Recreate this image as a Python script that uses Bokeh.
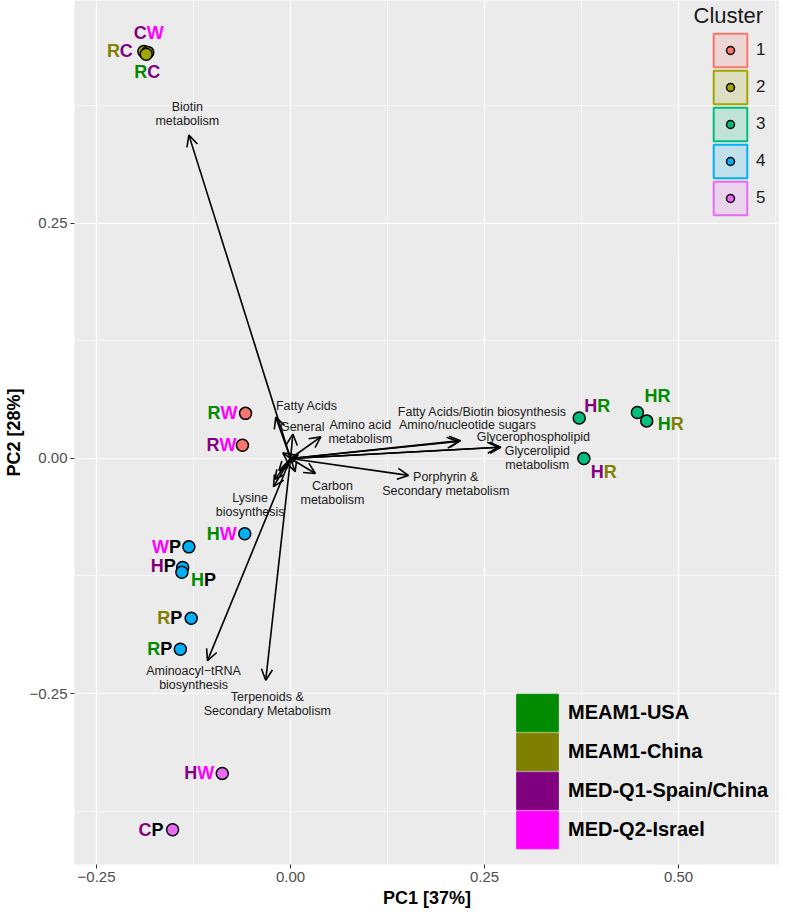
from bokeh.plotting import figure
from bokeh.models import (ColumnDataSource, Arrow, OpenHead, Legend, LegendItem,
                          FixedTicker, Range1d, Label, CustomJSTickFormatter)
from bokeh.core.properties import value
from bokeh.embed import file_html
from bokeh.resources import INLINE

FONT = "Liberation Sans"
NAN = float("nan")

# ---------------- data ----------------
populations = ["MEAM1-USA", "MEAM1-China", "MED-Q1-Spain/China", "MED-Q2-Israel"]
pop_colors = ["#008B00", "#808000", "#800080", "#FF00FF"]

clusters = ["1", "2", "3", "4", "5"]
cluster_colors = ["#F8766D", "#A3A500", "#00BF7D", "#00B0F6", "#E76BF3"]

# sample scores
pc1 = [-0.189, -0.184, -0.186, -0.058, -0.062, 0.372, 0.447, 0.459, 0.378,
       -0.059, -0.131, -0.139, -0.140, -0.128, -0.142, -0.088, -0.152]
pc2 = [0.433, 0.432, 0.430, 0.048, 0.014, 0.043, 0.049, 0.040, 0.000,
       -0.080, -0.094, -0.116, -0.121, -0.170, -0.203, -0.335, -0.395]
cluster = ["2", "2", "2", "1", "1", "3", "3", "3", "3",
           "4", "4", "4", "4", "4", "4", "5", "5"]
first_letter = ["R", "C", "R", "R", "R", "H", "H", "H", "H",
                "H", "W", "H", "H", "R", "R", "H", "C"]
second_letter = ["C", "W", "C", "W", "W", "R", "R", "R", "R",
                 "W", "P", "P", "P", "P", "P", "W", "P"]
first_pop = ["MEAM1-China", "MED-Q1-Spain/China", "MEAM1-USA", "MEAM1-USA",
             "MED-Q1-Spain/China", "MED-Q1-Spain/China", "MEAM1-USA", "MEAM1-USA",
             "MED-Q1-Spain/China", "MEAM1-USA", "MED-Q2-Israel", "MED-Q1-Spain/China",
             "MEAM1-USA", "MEAM1-China", "MEAM1-USA", "MED-Q1-Spain/China",
             "MED-Q1-Spain/China"]
second_pop = ["MED-Q1-Spain/China", "MED-Q2-Israel", "MED-Q1-Spain/China",
              "MED-Q2-Israel", "MED-Q2-Israel", "MEAM1-USA", "MEAM1-USA",
              "MEAM1-China", "MEAM1-China", "MED-Q2-Israel", "", "", "", "", "",
              "MED-Q2-Israel", ""]

# variable loadings (arrows)
var_names = ["Biotin\nmetabolism", "Fatty Acids", "General", "Amino acid\nmetabolism",
             "Fatty Acids/Biotin biosynthesis", "Amino/nucleotide sugars",
             "Glycerophospholipid", "Glycerolipid\nmetabolism",
             "Porphyrin &\nSecondary metabolism", "Carbon\nmetabolism",
             "Lysine\nbiosynthesis", "Aminoacyl\u2212tRNA\nbiosynthesis",
             "Terpenoids &\nSecondary Metabolism"]
load_x = [-0.131, -0.019, 0.003, 0.039, 0.219, 0.216, 0.268, 0.271, 0.152, 0.032,
          -0.022, -0.107, -0.032]
load_y = [0.344, 0.044, 0.026, 0.023, 0.019, 0.018, 0.012, 0.012, -0.018, -0.016,
          -0.030, -0.215, -0.236]
var_label_x = [-0.133, 0.021, 0.015, 0.090, 0.247, 0.228, 0.313, 0.318, 0.200, 0.054,
               -0.052, -0.125, -0.030]
var_label_y = [0.366, 0.056, 0.033, 0.028, 0.049, 0.036, 0.023, 0.001, -0.027, -0.037,
               -0.050, -0.233, -0.261]
# short loadings crowded at the origin (labels not legible)
small_x = [-0.010, -0.015, 0.006, 0.010, -0.020]
small_y = [0.006, -0.013, -0.014, 0.004, -0.022]

# label placement (pixel offset of the junction between the two letters)
label_dx = [-24, -1, 1, -25, -23, 18, 20, 24, 20, -25, -20, -19, 22, -21, -20, -25, -21]
label_dy = [0, -19, 18, 0, 0, -12, -16, 3, 14, 0, 0, -2, 8, 0, 0, 0, 0]

# ---------------- figure ----------------
pop_color = dict(zip(populations, pop_colors))
pop_color[""] = "#000000"

FRAME_H = 864
p = figure(frame_width=705, frame_height=FRAME_H,
           x_range=Range1d(-0.2784, 0.6301), y_range=Range1d(-0.4319, 0.4872),
           output_backend="svg", toolbar_location=None,
           min_border_left=66, min_border_right=0, min_border_top=0, min_border_bottom=44,
           background_fill_color="#EBEBEB", border_fill_color="white",
           outline_line_color=None)

xt = FixedTicker(ticks=[-0.25, 0.0, 0.25, 0.5], minor_ticks=[-0.125, 0.125, 0.375, 0.625])
yt = FixedTicker(ticks=[-0.25, 0.0, 0.25], minor_ticks=[-0.375, -0.125, 0.125, 0.375])
p.xaxis.ticker = xt
p.yaxis.ticker = yt
p.xgrid.ticker = xt
p.ygrid.ticker = yt
fmt = CustomJSTickFormatter(code="return (tick < -1e-9 ? '\\u2212' : '') + Math.abs(tick).toFixed(2);")
for ax in (p.xaxis[0], p.yaxis[0]):
    ax.formatter = fmt
    ax.axis_line_color = None
    ax.major_tick_in = 0
    ax.major_tick_out = 4
    ax.major_tick_line_color = "#333333"
    ax.major_tick_line_width = 1.1
    ax.minor_tick_in = 0
    ax.minor_tick_out = 0
    ax.major_label_text_font = FONT
    ax.major_label_text_font_size = "15px"
    ax.major_label_text_color = "#4D4D4D"
    ax.major_label_standoff = 3
    ax.axis_label_text_font = FONT
    ax.axis_label_text_font_size = "18px"
    ax.axis_label_text_font_style = "bold"
    ax.axis_label_text_color = "#000000"
    ax.axis_label_standoff = 3
p.xaxis.axis_label = "PC1 [37%]"
p.yaxis.axis_label = "PC2 [28%]"
for g in (p.xgrid[0], p.ygrid[0]):
    g.grid_line_color = "white"
    g.grid_line_width = 1.2
    g.minor_grid_line_color = "white"
    g.minor_grid_line_width = 0.6

# arrows
arrow_src = ColumnDataSource(dict(x0=[0.0] * len(load_x), y0=[0.0] * len(load_y),
                                  x1=load_x, y1=load_y))
p.add_layout(Arrow(source=arrow_src, x_start="x0", y_start="y0", x_end="x1", y_end="y1",
                   line_width=1.6, line_color="black",
                   end=OpenHead(size=11, line_width=1.6, line_color="black")))
small_src = ColumnDataSource(dict(x0=[0.0] * len(small_x), y0=[0.0] * len(small_y),
                                  x1=small_x, y1=small_y))
p.add_layout(Arrow(source=small_src, x_start="x0", y_start="y0", x_end="x1", y_end="y1",
                   line_width=1.6, line_color="black",
                   end=OpenHead(size=9, line_width=1.6, line_color="black")))

p.text(x=var_label_x, y=var_label_y, text=var_names, text_align="center",
       text_baseline="middle", text_font=value(FONT), text_font_size="12.5px",
       text_color="#1A1A1A", text_line_height=1.0)

# points per cluster
point_r = {}
for k, c in zip(clusters, cluster_colors):
    idx = [i for i, v in enumerate(cluster) if v == k]
    point_r[k] = p.scatter([pc1[i] for i in idx], [pc2[i] for i in idx], size=12,
                           fill_color=c, line_color="black", line_width=1.5)

# two-coloured letter labels
lab_src = ColumnDataSource(dict(
    x=pc1, y=pc2, first=first_letter, second=second_letter,
    c1=[pop_color[v] for v in first_pop], c2=[pop_color[v] for v in second_pop],
    dx=label_dx, dy=label_dy))
p.text(x="x", y="y", text="first", source=lab_src, text_color="c1", x_offset="dx",
       y_offset="dy", text_align="right", text_baseline="middle",
       text_font=value(FONT), text_font_style="bold", text_font_size="18px")
p.text(x="x", y="y", text="second", source=lab_src, text_color="c2", x_offset="dx",
       y_offset="dy", text_align="left", text_baseline="middle",
       text_font=value(FONT), text_font_style="bold", text_font_size="18px")

# legend-only renderers (nothing drawn in the plot area)
box_r = {}
for k, c in zip(clusters, cluster_colors):
    box_r[k] = p.quad(left=[NAN], right=[NAN], top=[NAN], bottom=[NAN], fill_color=c,
                      fill_alpha=0.18, line_color=c, line_width=2)
pop_r = {}
for name, c in zip(populations, pop_colors):
    pop_r[name] = p.quad(left=[NAN], right=[NAN], top=[NAN], bottom=[NAN], fill_color=c,
                         line_color=c, line_width=1)

common = dict(padding=0, margin=0, background_fill_alpha=0, border_line_alpha=0)

# cluster legend: one key per legend so the keys can sit close together
CL_PITCH = 37
for i, k in enumerate(clusters):
    p.add_layout(Legend(items=[LegendItem(label=k, renderers=[box_r[k]])],
                        location=(635, FRAME_H - 71 - CL_PITCH * i),
                        glyph_width=42, glyph_height=42, label_standoff=5,
                        label_text_font=FONT, label_text_font_size="17px",
                        label_text_color="#1A1A1A", **common))
p.add_layout(Legend(items=[LegendItem(label=" ", renderers=[point_r[k]]) for k in clusters],
                    location=(646, FRAME_H - 208), glyph_width=20, glyph_height=20,
                    spacing=CL_PITCH - 20, label_height=20, label_standoff=0,
                    label_text_font_size="8px", **common))
p.add_layout(Label(x=619, y=FRAME_H - 15, x_units="screen", y_units="screen",
                   text="Cluster", text_font=FONT, text_font_size="22px",
                   text_color="#1A1A1A", text_baseline="middle", text_align="left"))

# population (letter colour) legend
POP_PITCH = 39
for i, n in enumerate(populations):
    p.add_layout(Legend(items=[LegendItem(label=n, renderers=[pop_r[n]])],
                        location=(437, FRAME_H - 735.5 - POP_PITCH * i),
                        glyph_width=52, glyph_height=47, label_standoff=5,
                        label_text_font=FONT, label_text_font_size="20px",
                        label_text_font_style="bold", label_text_color="#000000",
                        **common))

open("out.html", "w").write(file_html(p, INLINE))
